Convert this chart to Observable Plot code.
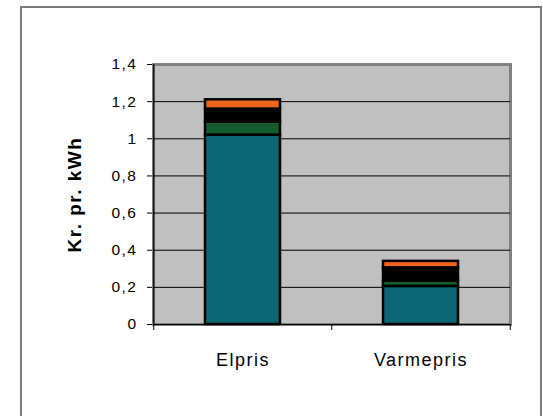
<!DOCTYPE html>
<html>
<head>
<meta charset="utf-8">
<script src="https://cdn.jsdelivr.net/npm/d3@7"></script>
<script src="https://cdn.jsdelivr.net/npm/@observablehq/plot@0.6"></script>
<style>
  html, body { margin: 0; padding: 0; background: #fff; }
  #wrap { position: relative; width: 543px; height: 416px; overflow: hidden; }
  #frame { position: absolute; left: 20px; top: 6px; width: 522px; height: 430px; border: 2px solid #7a7a7a; box-sizing: border-box; }
  #chart { position: absolute; left: 0; top: 0; }
</style>
</head>
<body>
<div id="wrap"><div id="frame"></div><div id="chart"></div></div>
<script>
const categories = ["Elpris", "Varmepris"];
const seriesNames = ["Del 1", "Del 2", "Del 3", "Del 4"];
const seriesColors = ["#0c6674", "#135a2c", "#000000", "#f0651a"];
const elprisValues = [1.02, 0.07, 0.07, 0.05];
const varmeprisValues = [0.205, 0.03, 0.07, 0.035];
const yTicks = [0, 0.2, 0.4, 0.6, 0.8, 1, 1.2, 1.4];
const yLabel = "Kr. pr. kWh";

const valuesByCategory = [elprisValues, varmeprisValues];
const data = [];
categories.forEach((c, ci) => {
  seriesNames.forEach((s, si) => {
    data.push({category: c, series: s, value: valuesByCategory[ci][si]});
  });
});

const W = 543, H = 416;
const mL = 153, mR = 33, mT = 64, mB = 92;
const step = (W - mL - mR) / categories.length;
const fmt = d => String(d).replace(".", ",");

const chart = Plot.plot({
  width: W,
  height: H,
  marginLeft: mL,
  marginRight: mR,
  marginTop: mT,
  marginBottom: mB,
  style: {fontFamily: "'Liberation Sans', Arial, sans-serif", fontSize: "15.5px", letterSpacing: "1.5px", background: "transparent", color: "#000"},
  x: {domain: categories, paddingInner: 0.58, paddingOuter: 0.29, label: null, axis: null},
  y: {domain: [0, 1.4], ticks: yTicks, tickFormat: fmt, tickSize: 6, tickPadding: 10, label: null},
  color: {domain: seriesNames, range: seriesColors},
  marks: [
    Plot.frame({fill: "#c0c0c0", stroke: "#808080", strokeWidth: 3}),
    Plot.ruleY(yTicks.filter(d => d > 0 && d < 1.4), {stroke: "#000", strokeWidth: 1}),
    Plot.barY(data, Plot.stackY({
      x: "category", y: "value", fill: "series", order: seriesNames,
      stroke: "#000", strokeWidth: 2.5
    })),
    // axis lines
    Plot.ruleY([0], {stroke: "#000", strokeWidth: 1.2}),
    Plot.ruleX(categories.slice(0, 1), {x: d => d, dx: -step / 2, y1: 0, y2: 1.4, stroke: "#000", strokeWidth: 1.2}),
    // x boundary ticks
    Plot.ruleX(categories, {x: d => d, dx: -step / 2, y1: 0, y2: 0, stroke: "#000", strokeWidth: 1, insetBottom: -6}),
    Plot.ruleX(categories.slice(-1), {x: d => d, dx: step / 2, y1: 0, y2: 0, stroke: "#000", strokeWidth: 1, insetBottom: -6}),
    // x labels
    Plot.text(categories, {x: d => d, y: 0, dy: 36, text: d => d, fontSize: 18, fill: "#000", letterSpacing: "2.5px"}),
    // y axis title
    Plot.text([yLabel], {x: () => categories[0], y: 0.7, dx: -step / 2 - 79, dy: 0, text: d => d, rotate: -90, fontSize: 19, fontWeight: "bold", fill: "#000", letterSpacing: "3.5px"})
  ]
});
document.getElementById("chart").appendChild(chart);
</script>
</body>
</html>
